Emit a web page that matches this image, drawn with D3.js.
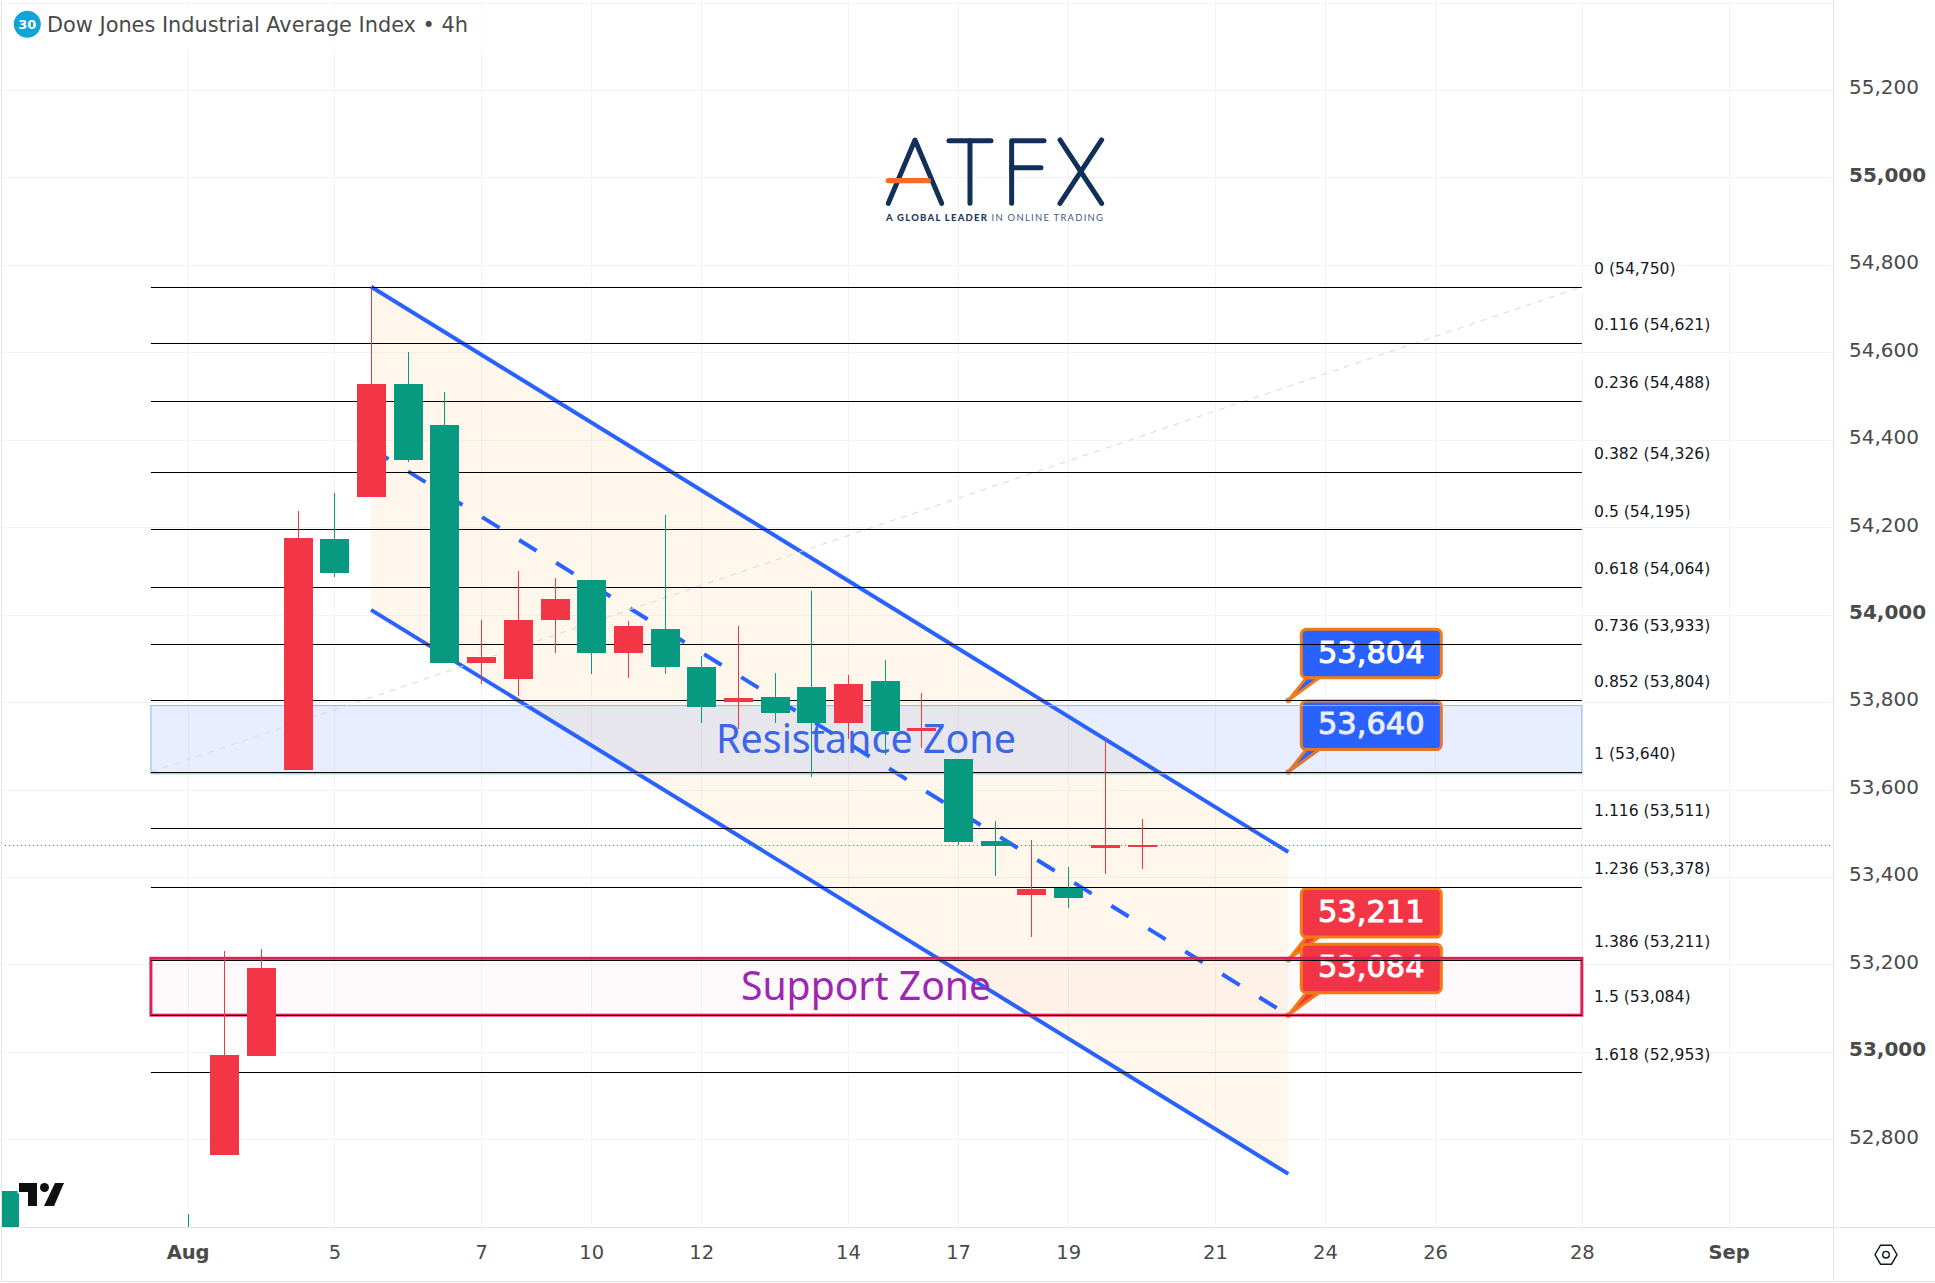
<!DOCTYPE html>
<html><head><meta charset="utf-8">
<script src="https://cdn.jsdelivr.net/npm/d3@7/dist/d3.min.js"></script>
<style>html,body{margin:0;padding:0;background:#fff}svg{display:block}text{font-family:"DejaVu Sans",sans-serif}</style>
</head><body><div id="chart"></div>
<script>
// ---- data ----
const barIndex = [-5,0,1,2,3,4,5,6,7,8,9,10,11,12,13,14,15,16,17,18,19,20,21,22,23,24,25,26];
const opens  = [52682,52560,52764,52990,53645,54173,54269,54528,54434,53889,53853,53988,54079,53912,53967,53880,53800,53812,53834,53752,53848,53734,53670,53482,53359,53375,53466,53471];
const highs  = [52682,52629,53231,53235,54237,54278,54750,54601,54509,53988,54100,54084,54079,53985,54228,53905,53974,53867,54054,53862,53896,53821,53670,53528,53485,53423,53716,53533];
const lows   = [52540,52500,52764,52990,53645,54086,54269,54349,53889,53841,53814,53912,53864,53855,53864,53752,53738,53752,53629,53716,53679,53695,53473,53402,53263,53329,53407,53418];
const closes = [52540,52520,52993,53192,54175,54095,54528,54354,53889,53903,53988,54036,53912,53974,53880,53789,53809,53775,53752,53841,53734,53741,53480,53471,53372,53352,53473,53473];
const lastPrice = 53472;
const fibRatios = ["0","0.116","0.236","0.382","0.5","0.618","0.736","0.852","1","1.116","1.236","1.386","1.5","1.618"];
const fibPrices = [54750,54621,54488,54326,54195,54064,53933,53804,53640,53511,53378,53211,53084,52953];
const fibStartBar = -1, fibEndBar = 38;
const priceTicks = [55400,55200,55000,54800,54600,54400,54200,54000,53800,53600,53400,53200,53000,52800];
const boldPrices = [55000,54000,53000];
const dateBars   = [0,4,8,11,14,18,21,24,28,31,34,38,42];
const dateLabels = ["Aug","5","7","10","12","14","17","19","21","24","26","28","Sep"];
const boldDates  = ["Aug","Sep"];
const channelBars  = [5,30];
const channelUpper = [54750,53457];
const channelLower = [54011,52721];
const channelMid   = [54380,53084];
const resistanceZone = [53792,53636];
const supportZone    = [53214,53084];
const blueCallouts = [53804,53640];
const redCallouts  = [53211,53084];
const calloutBar = 30;

const W=1935,H=1283, plotR=1833, plotB=1227;
const C={up:"#f23645",down:"#089981",grid:"#f0f3fa",axis:"#e0e3eb",txt:"#4a4a4a",blue:"#2962ff"};
const svg=d3.select("#chart").append("svg").attr("width",W).attr("height",H);
const x=d3.scaleLinear().domain([0,42]).range([187.6,1728.6]);
const y=d3.scaleLinear().domain([55200,52800]).range([90,1139.3]);
const px=v=>Math.round(x(v));
const py=v=>Math.round(y(v));
const fmt=d3.format(",");

svg.append("defs").append("clipPath").attr("id","plot").append("rect").attr("x",1).attr("y",0).attr("width",plotR-1).attr("height",plotB);

// grid
const g=svg.append("g");
g.selectAll(".gx").data(dateBars).join("line").attr("x1",d=>px(d)+.5).attr("x2",d=>px(d)+.5).attr("y1",0).attr("y2",plotB).attr("stroke",C.grid);
g.selectAll(".gy").data(priceTicks).join("line").attr("y1",d=>py(d)+.5).attr("y2",d=>py(d)+.5).attr("x1",1).attr("x2",plotR).attr("stroke",C.grid);

// title backdrop
svg.append("rect").attr("x",2).attr("y",5).attr("width",480).attr("height",45).attr("fill","#fff").attr("opacity",.75);

// channel fill
const chan=svg.append("g").attr("clip-path","url(#plot)");
chan.append("path").datum(channelBars.map((b,i)=>({b,u:channelUpper[i],l:channelLower[i]})))
  .attr("d",d3.area().x(d=>x(d.b)).y0(d=>y(d.l)).y1(d=>y(d.u))).attr("fill","#ff9800").attr("fill-opacity",.08);
const ln=d3.line().x(d=>x(d.b)).y(d=>y(d.v));
[[channelUpper,null],[channelLower,null],[channelMid,"20.5 23"]].forEach(([vals,dash])=>{
  chan.append("path").datum(channelBars.map((b,i)=>({b,v:vals[i]}))).attr("d",ln)
    .attr("fill","none").attr("stroke",C.blue).attr("stroke-width",4).attr("stroke-dasharray",dash);
});

// callouts
function callout(val,fill){
  const ptX=x(calloutBar), ptY=y(val);
  const c=svg.append("g");
  const bx=ptX+13,bw=140,bt=ptY-71,bh=48.5;
  c.append("path").attr("d",`M${ptX},${ptY}L${bx+5},${bt+bh}L${bx+18},${bt+bh}Z`).attr("fill",fill).attr("stroke","#f57c14").attr("stroke-width",3).attr("stroke-linejoin","round");
  c.append("rect").attr("x",bx).attr("y",bt).attr("width",bw).attr("height",bh).attr("rx",5).attr("fill",fill).attr("stroke","#f57c14").attr("stroke-width",3);
  c.append("circle").attr("cx",ptX).attr("cy",ptY).attr("r",2.8).attr("fill","#f57c14");
  c.append("text").attr("x",bx+bw/2).attr("y",bt+bh/2-2).attr("dy","0.36em").attr("text-anchor","middle")
    .attr("font-size",30.5).attr("fill","#fff").attr("stroke","#fff").attr("stroke-width",1).text(fmt(val));
}
blueCallouts.forEach(v=>callout(v,C.blue));
redCallouts.forEach(v=>callout(v,C.up));

// zones
const zx0=x(fibStartBar),zx1=x(fibEndBar);
svg.append("rect").attr("x",zx0).attr("y",y(resistanceZone[0])).attr("width",zx1-zx0).attr("height",y(resistanceZone[1])-y(resistanceZone[0]))
  .attr("fill",C.blue).attr("fill-opacity",.11).attr("stroke","#90b4f4").attr("stroke-width",1);
svg.append("rect").attr("x",zx0).attr("y",y(supportZone[0])).attr("width",zx1-zx0).attr("height",y(supportZone[1])-y(supportZone[0]))
  .attr("fill","#e91e63").attr("fill-opacity",.028).attr("stroke","#e01e5a").attr("stroke-width",3);
svg.append("text").attr("x",866).attr("y",y((resistanceZone[0]+resistanceZone[1])/2)-1).attr("dy",".36em").attr("text-anchor","middle")
  .attr("font-size",40).attr("fill","#3b66e6").attr("textLength",300).attr("lengthAdjust","spacingAndGlyphs").style("font-family","'Noto Sans'").text("Resistance Zone");
svg.append("text").attr("x",866).attr("y",y((supportZone[0]+supportZone[1])/2)-1).attr("dy",".36em").attr("text-anchor","middle")
  .attr("font-size",40).attr("fill","#9c27b0").attr("textLength",250).attr("lengthAdjust","spacingAndGlyphs").style("font-family","'Noto Sans'").text("Support Zone");

// fib trend line & levels
svg.append("line").attr("x1",zx0).attr("x2",zx1).attr("y1",y(fibPrices[8])).attr("y2",y(fibPrices[0])).attr("stroke","#d8d8d8").attr("stroke-width",1).attr("stroke-dasharray","6 6");
const fib=svg.append("g");
fib.selectAll("line").data(fibPrices).join("line").attr("x1",zx0).attr("x2",zx1).attr("y1",d=>py(d)+.5).attr("y2",d=>py(d)+.5).attr("stroke","#000").attr("stroke-width",1);
fib.selectAll("text").data(fibPrices).join("text").attr("x",1594).attr("y",d=>y(d)-18.5).attr("dy",".36em")
  .attr("font-size",15.6).attr("fill","#131722").text((d,i)=>`${fibRatios[i]} (${fmt(d)})`);

// last price
svg.append("line").attr("x1",1).attr("x2",plotR).attr("y1",py(lastPrice)+.5).attr("y2",py(lastPrice)+.5).attr("stroke",C.up).attr("stroke-dasharray","1 3");

// candles
const bars=barIndex.map((b,i)=>({b,o:opens[i],h:highs[i],l:lows[i],c:closes[i]}));
const cg=svg.append("g").attr("clip-path","url(#plot)");
cg.selectAll(".wick").data(bars).join("rect").attr("x",d=>px(d.b)).attr("width",1).attr("y",d=>py(d.h)).attr("height",d=>py(d.l)-py(d.h)).attr("fill",d=>d.c>=d.o?C.up:C.down);
cg.selectAll(".body").data(bars.filter(d=>d.b!==0)).join("rect").attr("x",d=>px(d.b)-14).attr("width",29)
  .attr("y",d=>py(Math.max(d.o,d.c))).attr("height",d=>Math.max(2,py(Math.min(d.o,d.c))-py(Math.max(d.o,d.c)))).attr("fill",d=>d.c>=d.o?C.up:C.down);

// axes
const ay=d3.axisRight(y).tickValues(priceTicks.filter(d=>d<=55200)).tickSize(0).tickFormat(fmt);
const ayG=svg.append("g").attr("transform",`translate(${plotR+16},-2.5)`).call(ay);
ayG.select(".domain").remove();
ayG.selectAll("text").attr("x",0).attr("font-size",20).attr("fill",C.txt).attr("font-weight",d=>boldPrices.includes(d)?700:400).style("font-family","'DejaVu Sans'");
const ax=d3.axisBottom(x).tickValues(dateBars).tickSize(0).tickFormat((d,i)=>dateLabels[i]);
const axG=svg.append("g").attr("transform",`translate(0,1245)`).call(ax);
axG.select(".domain").remove();
axG.selectAll("text").attr("y",0).attr("dy",".71em").attr("font-size",19.5).attr("fill",C.txt).attr("font-weight",(d,i)=>boldDates.includes(dateLabels[i])?700:400).style("font-family","'DejaVu Sans'");
svg.append("line").attr("x1",plotR+.5).attr("x2",plotR+.5).attr("y1",0).attr("y2",1282).attr("stroke",C.axis).attr("stroke-width",1);
svg.append("line").attr("x1",1).attr("x2",W).attr("y1",plotB+.5).attr("y2",plotB+.5).attr("stroke",C.axis).attr("stroke-width",1);
svg.append("line").attr("x1",1).attr("x2",W).attr("y1",1281.5).attr("y2",1281.5).attr("stroke",C.axis);
svg.append("line").attr("x1",1.5).attr("x2",1.5).attr("y1",0).attr("y2",1282).attr("stroke",C.axis);

// title
svg.append("circle").attr("cx",27.3).attr("cy",24.3).attr("r",13.5).attr("fill","#14a3d8");
svg.append("text").attr("x",27.3).attr("y",24.3).attr("dy",".36em").attr("text-anchor","middle").attr("font-size",13).attr("font-weight",700).attr("fill","#fff").text("30");
svg.append("text").attr("x",47).attr("y",24.5).attr("dy",".36em").attr("font-size",21.5).attr("fill",C.txt).attr("textLength",421).attr("lengthAdjust","spacingAndGlyphs").text("Dow Jones Industrial Average Index • 4h");

// ATFX logo
const logo=svg.append("g").attr("transform","translate(840,110) scale(.3333)").attr("fill","none").attr("stroke","#10305a").attr("stroke-width",15).attr("stroke-linecap","round").attr("stroke-linejoin","round");
["M145,280L225,90L305,280","M327,92H453","M390,92V280","M515,280V92H612","M515,173H603","M660,90L785,280","M785,90L660,280"].forEach(d=>logo.append("path").attr("d",d));
logo.append("path").attr("d","M145,212H265").attr("stroke","#f96a26").attr("stroke-width",16);
const tag=svg.append("text").attr("x",886).attr("y",220.5).attr("font-size",9.5).attr("fill","#1e3a63").attr("textLength",218).style("font-family","Lato").style("letter-spacing","1px");
tag.append("tspan").attr("font-weight",900).text("A GLOBAL LEADER ");
tag.append("tspan").attr("font-weight",400).attr("fill","#46597a").text("IN ONLINE TRADING");

// TradingView mark
const tv=svg.append("g").attr("fill","#0f0f0f").attr("stroke","#fff").attr("stroke-width",3).style("paint-order","stroke");
tv.append("path").attr("d","M19,1183H37V1206H28V1192H19Z");
tv.append("circle").attr("cx",44.5).attr("cy",1187.5).attr("r",4.5);
tv.append("path").attr("d","M55,1183H64L54,1206H44Z");

// settings glyph
const hx=svg.append("g").attr("transform","translate(1886,1254.7)").attr("fill","none").attr("stroke","#131722").attr("stroke-width",1.4);
hx.append("path").attr("d","M-11,0L-5.5,-9.5H5.5L11,0L5.5,9.5H-5.5Z");
hx.append("circle").attr("r",3.3);
</script></body></html>
